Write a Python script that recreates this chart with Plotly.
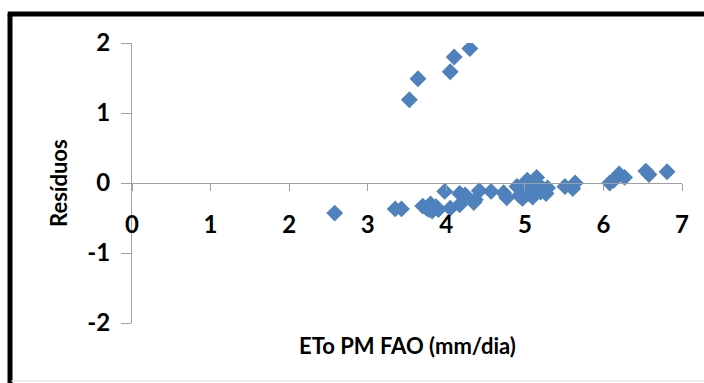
import plotly.graph_objects as go

# Data
eto = [2.58, 3.35, 3.43, 3.70, 3.75, 3.80, 3.82, 3.87, 3.90, 3.78,
       3.98, 4.05, 4.17, 4.24, 4.17, 4.37, 4.35, 4.42, 4.57, 4.73, 4.77,
       4.90, 4.93, 4.97, 5.00, 5.03, 5.05, 5.08, 5.10, 5.15, 5.18, 5.20,
       5.23, 5.27, 5.29, 5.13, 5.51, 5.64, 5.61, 6.08, 6.13, 6.20, 6.27,
       6.54, 6.58, 6.81,
       3.53, 3.64, 4.05, 4.10, 4.30]
residuos = [-0.43, -0.37, -0.37, -0.33, -0.36, -0.30, -0.40, -0.34, -0.38, -0.38,
            -0.12, -0.36, -0.15, -0.17, -0.31, -0.24, -0.28, -0.11, -0.12, -0.14, -0.21,
            -0.05, -0.18, -0.22, -0.10, 0.04, -0.15, -0.06, -0.20, 0.08, -0.04, -0.13,
            -0.08, -0.15, -0.07, -0.10, -0.05, 0.00, -0.08, 0.00, 0.04, 0.13, 0.08,
            0.17, 0.12, 0.16,
            1.19, 1.49, 1.59, 1.80, 1.92]
x_ticks = [0, 1, 2, 3, 4, 5, 6, 7]
y_ticks = [-2, -1, 0, 1, 2]
x_title = "ETo PM FAO (mm/dia)"
y_title = "Resíduos"

BLUE = "#4F81BD"
AXIS = "#A0A0A0"
FONT = "Lato"

fig = go.Figure(go.Scatter(
    x=eto, y=residuos, mode="markers",
    marker=dict(symbol="diamond", size=13, color=BLUE, line=dict(width=0)),
    showlegend=False,
))

fig.update_layout(
    width=704, height=383,
    margin=dict(l=132, r=22, t=43, b=60),
    paper_bgcolor="white", plot_bgcolor="white",
    xaxis=dict(
        range=[0, 7], tickvals=x_ticks, ticktext=[str(v) for v in x_ticks],
        anchor="free", position=0.5,
        showline=True, linecolor=AXIS, linewidth=1,
        ticks="outside", ticklen=7, tickcolor=AXIS, tickwidth=1,
        showgrid=False, zeroline=False,
        tickfont=dict(family=FONT, size=24, color="black", weight="bold"),
        ticklabelstandoff=13,
    ),
    yaxis=dict(
        range=[-2, 2], tickvals=y_ticks, ticktext=[str(v) for v in y_ticks],
        showline=True, linecolor=AXIS, linewidth=1,
        ticks="outside", ticklen=10, tickcolor=AXIS, tickwidth=1,
        showgrid=False, zeroline=False,
        tickfont=dict(family=FONT, size=24, color="black", weight="bold"),
        ticklabelstandoff=6,
    ),
    annotations=[
        dict(text=x_title, xref="paper", yref="paper", x=0.5, y=-0.079,
             showarrow=False, xanchor="center", yanchor="middle",
             font=dict(family=FONT, size=22, color="black", weight="bold")),
        dict(text=y_title, xref="paper", yref="paper", x=-0.1345, y=0.5,
             showarrow=False, xanchor="center", yanchor="middle", textangle=-90,
             font=dict(family=FONT, size=22, color="black", weight="bold")),
    ],
    shapes=[
        # outer frame (left and top black, bottom light grey)
        dict(type="line", xref="paper", yref="paper", x0=-0.2218, x1=-0.2218,
             y0=-0.22, y1=1.1036, line=dict(color="black", width=5)),
        dict(type="line", xref="paper", yref="paper", x0=-0.226, x1=1.05,
             y0=1.1036, y1=1.1036, line=dict(color="black", width=5)),
        dict(type="line", xref="paper", yref="paper", x0=-0.22, x1=1.05,
             y0=-0.207, y1=-0.207, line=dict(color="#D9D9D9", width=1)),
    ],
)

fig.write_html("out.html")
